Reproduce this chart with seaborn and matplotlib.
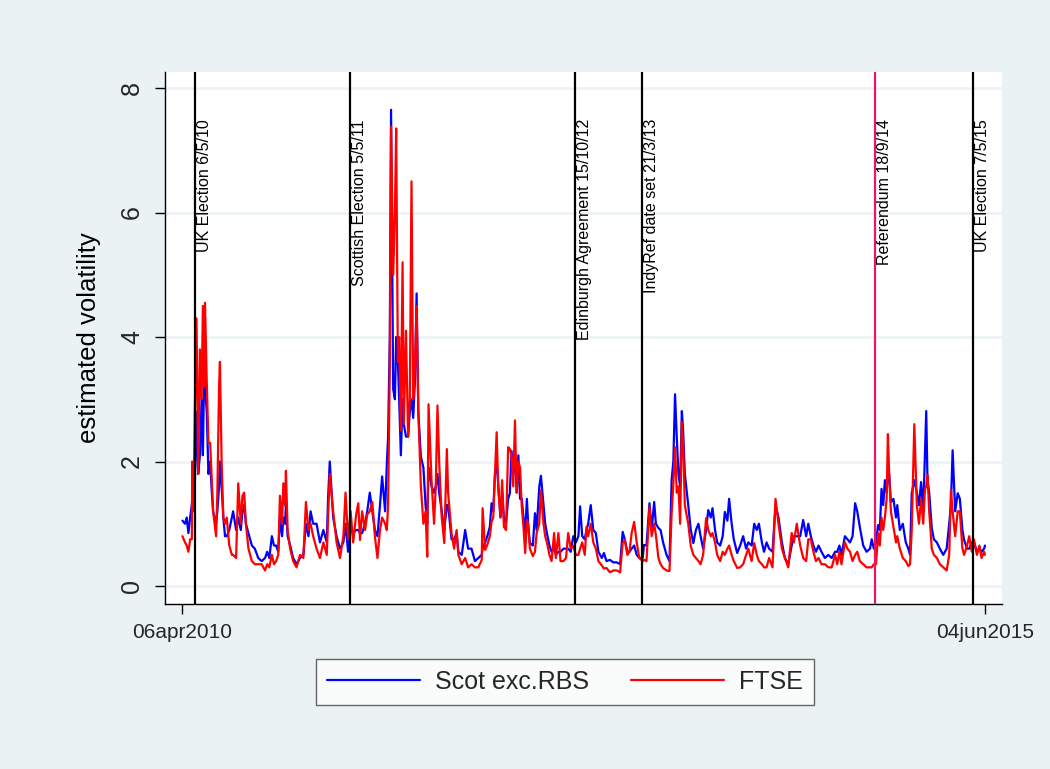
import numpy as np
import pandas as pd
import matplotlib
matplotlib.use("Agg")
import matplotlib.pyplot as plt
from matplotlib.lines import Line2D
import seaborn as sns

# ---------------- data ----------------
start_date = "2010-04-06"

# days since 06apr2010
day_offset = [
    0, 6, 10, 14, 18, 22, 23, 26, 29, 33,
    37, 41, 45, 48, 51, 53, 57, 61, 65, 69,
    72, 79, 82, 86, 88, 92, 96, 100, 104, 110,
    116, 119, 126, 131, 137, 141, 145, 149, 155, 163,
    170, 178, 186, 194, 199, 204, 210, 215, 220, 225,
    229, 234, 237, 241, 243, 247, 253, 260, 268, 276,
    284, 290, 296, 301, 307, 315, 323, 331, 339, 342,
    346, 354, 362, 370, 378, 383, 389, 395, 401, 408,
    413, 417, 422, 429, 434, 440, 446, 452, 458, 464,
    469, 476, 480, 483, 487, 490, 495, 499, 502, 506,
    509, 513, 517, 520, 525, 530, 534, 538, 542, 546,
    550, 554, 560, 566, 571, 575, 578, 581, 585, 591,
    595, 599, 603, 609, 615, 621, 624, 632, 638, 644,
    648, 656, 664, 671, 679, 687, 695, 703, 705, 711,
    716, 722, 726, 730, 734, 738, 742, 747, 751, 755,
    760, 765, 769, 773, 777, 781, 785, 789, 793, 797,
    801, 805, 809, 812, 816, 823, 828, 832, 838, 842,
    848, 852, 856, 862, 867, 873, 877, 883, 888, 895,
    901, 906, 912, 918, 924, 930, 934, 939, 945, 949,
    953, 959, 965, 971, 977, 985, 990, 996, 1004, 1012,
    1020, 1028, 1034, 1039, 1045, 1050, 1055, 1061, 1067, 1073,
    1081, 1084, 1090, 1097, 1102, 1108, 1112, 1118, 1123, 1129,
    1137, 1144, 1149, 1153, 1157, 1161, 1165, 1169, 1173, 1176,
    1180, 1188, 1194, 1200, 1206, 1212, 1217, 1223, 1230, 1235,
    1241, 1245, 1251, 1256, 1263, 1269, 1274, 1280, 1284, 1290,
    1295, 1303, 1310, 1317, 1324, 1329, 1337, 1343, 1349, 1354,
    1361, 1366, 1372, 1378, 1386, 1393, 1400, 1408, 1415, 1423,
    1431, 1436, 1443, 1451, 1458, 1465, 1470, 1476, 1482, 1488,
    1494, 1501, 1509, 1517, 1525, 1533, 1538, 1543, 1548, 1556,
    1562, 1568, 1574, 1580, 1585, 1591, 1599, 1607, 1615, 1619,
    1624, 1629, 1634, 1638, 1642, 1646, 1650, 1654, 1657, 1660,
    1664, 1670, 1676, 1679, 1685, 1692, 1699, 1705, 1709, 1713,
    1719, 1725, 1730, 1735, 1740, 1744, 1747, 1750, 1754, 1760,
    1765, 1772, 1779, 1787, 1795, 1801, 1805, 1809, 1815, 1821,
    1826, 1832, 1836, 1843, 1848, 1854, 1859, 1866, 1872, 1877,
    1883, 1885,
]

scot_exc_rbs = [
    1.05, 1.0, 1.1, 0.85, 1.1, 1.3, 1.4, 1.3, 1.6, 2.8,
    1.8, 2.1, 3.0, 2.1, 3.5, 3.2, 2.8, 1.8, 2.0, 1.5,
    1.2, 1.0, 1.2, 1.6, 2.0, 1.6, 1.1, 0.8, 0.8, 0.9,
    1.1, 1.2, 0.9, 1.1, 0.9, 1.2, 1.3, 1.0, 0.85, 0.65,
    0.6, 0.45, 0.4, 0.45, 0.55, 0.45, 0.8, 0.65, 0.65, 0.55,
    1.1, 0.8, 1.1, 1.0, 1.3, 0.8, 0.65, 0.45, 0.35, 0.45,
    0.5, 1.0, 0.8, 1.2, 1.0, 1.0, 0.7, 0.9, 0.7, 1.4,
    2.0, 1.1, 0.8, 0.6, 0.7, 1.0, 0.55, 0.9, 0.85, 0.9,
    0.9, 0.85, 0.85, 1.0, 1.2, 1.5, 1.2, 0.9, 0.8, 1.3,
    1.76, 1.2, 1.95, 2.4, 4.0, 7.65, 3.16, 3.0, 4.0, 3.6,
    3.0, 2.1, 3.0, 2.6, 2.4, 2.4, 2.8, 3.0, 2.7, 3.3,
    4.7, 2.8, 2.08, 1.9, 1.3, 1.0, 1.9, 1.8, 1.6, 1.5,
    1.6, 1.8, 1.5, 1.2, 0.9, 1.3, 1.3, 0.75, 0.75, 0.85,
    0.55, 0.5, 0.9, 0.6, 0.6, 0.4, 0.45, 0.5, 0.6, 0.7,
    0.8, 0.95, 1.33, 1.2, 1.8, 2.0, 1.6, 1.1, 1.5, 1.1,
    1.0, 1.4, 1.49, 2.17, 1.8, 2.1, 1.5, 2.1, 1.4, 1.4,
    1.1, 0.85, 1.4, 1.0, 0.69, 0.65, 1.17, 0.9, 1.59, 1.77,
    1.3, 1.0, 0.85, 0.65, 0.55, 0.6, 0.5, 0.55, 0.55, 0.6,
    0.6, 0.6, 0.55, 0.8, 0.7, 0.8, 1.28, 0.8, 0.75, 0.9,
    1.0, 1.3, 0.9, 0.85, 0.55, 0.45, 0.53, 0.4, 0.42, 0.38,
    0.38, 0.35, 0.87, 0.75, 0.55, 0.55, 0.6, 0.65, 0.5, 0.45,
    0.45, 0.66, 0.65, 1.33, 0.9, 1.35, 1.0, 0.93, 0.9, 0.7,
    0.5, 0.4, 1.7, 2.0, 3.08, 2.4, 1.8, 1.6, 2.81, 2.5,
    1.8, 1.3, 0.9, 0.69, 0.9, 1.0, 0.8, 0.6, 0.9, 1.22,
    1.1, 1.25, 0.9, 0.7, 0.65, 0.8, 1.19, 1.05, 1.4, 1.0,
    0.75, 0.53, 0.65, 0.8, 0.6, 0.7, 0.65, 1.0, 0.9, 1.0,
    0.7, 0.55, 0.7, 0.6, 0.55, 1.3, 1.1, 0.7, 0.45, 0.35,
    0.65, 0.8, 0.8, 0.8, 1.06, 0.8, 1.0, 0.8, 0.65, 0.55,
    0.65, 0.55, 0.45, 0.5, 0.45, 0.55, 0.55, 0.65, 0.5, 0.8,
    0.75, 0.7, 0.8, 1.33, 1.2, 0.95, 0.65, 0.55, 0.6, 0.75,
    0.6, 0.7, 0.98, 0.9, 1.56, 1.3, 1.7, 1.5, 1.8, 1.8,
    1.35, 1.4, 1.1, 1.3, 0.9, 1.0, 0.7, 0.6, 0.5, 1.49,
    1.7, 1.5, 1.3, 1.67, 1.2, 2.12, 2.81, 1.7, 1.5, 0.93,
    0.75, 0.7, 0.6, 0.5, 0.6, 1.0, 1.3, 2.18, 1.2, 1.49,
    1.4, 0.9, 0.74, 0.6, 0.6, 0.7, 0.7, 0.55, 0.6, 0.55,
    0.6, 0.65,
]

ftse = [
    0.8, 0.7, 0.65, 0.55, 0.75, 0.75, 2.0, 1.2, 2.8, 4.3,
    1.8, 3.8, 3.0, 4.5, 3.2, 4.55, 3.3, 2.3, 2.3, 1.7,
    1.2, 0.8, 1.5, 3.2, 3.6, 2.0, 1.1, 1.0, 1.1, 0.65,
    0.5, 0.5, 0.45, 1.65, 1.0, 1.45, 1.5, 1.0, 0.6, 0.4,
    0.35, 0.35, 0.35, 0.25, 0.35, 0.3, 0.5, 0.35, 0.4, 0.5,
    1.45, 1.0, 1.65, 1.3, 1.85, 0.9, 0.6, 0.4, 0.3, 0.5,
    0.45, 1.35, 0.9, 1.0, 0.8, 0.6, 0.45, 0.7, 0.5, 1.1,
    1.8, 1.2, 0.7, 0.45, 0.8, 1.5, 0.75, 1.2, 0.7, 1.15,
    1.33, 0.74, 1.2, 0.9, 1.15, 1.2, 1.35, 0.8, 0.45, 0.9,
    1.1, 1.0, 0.9, 1.3, 3.5, 7.38, 5.0, 6.0, 7.35, 3.6,
    4.0, 2.5, 5.2, 2.6, 4.1, 2.4, 3.0, 6.5, 3.0, 3.5,
    4.5, 2.8, 1.6, 1.0, 1.2, 0.47, 2.92, 2.4, 1.7, 1.0,
    1.6, 2.9, 2.0, 1.1, 0.69, 2.2, 1.5, 0.85, 0.6, 0.9,
    0.5, 0.35, 0.45, 0.3, 0.35, 0.3, 0.3, 0.42, 1.25, 0.58,
    0.66, 0.8, 1.03, 1.1, 1.8, 2.47, 1.54, 1.11, 1.7, 0.95,
    0.9, 2.23, 2.2, 2.1, 1.6, 2.66, 1.5, 2.0, 1.9, 1.27,
    0.95, 0.53, 1.06, 1.0, 0.6, 0.48, 0.55, 0.85, 1.0, 1.54,
    1.0, 0.8, 0.7, 0.5, 0.4, 0.85, 0.45, 0.85, 0.4, 0.4,
    0.45, 0.85, 0.6, 0.65, 0.5, 0.5, 0.6, 0.7, 0.5, 0.95,
    0.8, 1.0, 0.7, 0.6, 0.4, 0.33, 0.28, 0.29, 0.22, 0.25,
    0.25, 0.22, 0.69, 0.74, 0.5, 0.55, 0.85, 1.03, 0.7, 0.45,
    0.4, 0.42, 0.4, 1.27, 0.8, 1.0, 0.82, 0.45, 0.35, 0.29,
    0.25, 0.24, 1.17, 1.64, 2.23, 1.5, 1.6, 1.0, 2.63, 2.3,
    1.3, 1.0, 0.64, 0.5, 0.45, 0.4, 0.35, 0.5, 1.09, 0.9,
    0.8, 0.85, 0.7, 0.5, 0.4, 0.55, 0.5, 0.6, 0.65, 0.5,
    0.4, 0.29, 0.3, 0.35, 0.5, 0.6, 0.4, 0.69, 0.5, 0.4,
    0.35, 0.3, 0.3, 0.45, 0.3, 1.4, 1.0, 0.6, 0.45, 0.3,
    0.85, 0.7, 1.0, 0.65, 0.45, 0.4, 0.75, 0.75, 0.55, 0.4,
    0.45, 0.35, 0.35, 0.3, 0.3, 0.5, 0.35, 0.55, 0.35, 0.7,
    0.6, 0.55, 0.4, 0.5, 0.55, 0.4, 0.35, 0.3, 0.3, 0.3,
    0.35, 0.35, 0.85, 0.65, 1.1, 0.9, 1.1, 1.4, 2.44, 1.8,
    1.2, 0.95, 0.7, 0.8, 0.6, 0.45, 0.4, 0.32, 0.35, 0.9,
    2.6, 1.3, 1.0, 1.4, 1.0, 1.55, 1.6, 1.78, 1.2, 0.6,
    0.5, 0.45, 0.35, 0.3, 0.25, 0.5, 1.54, 1.2, 0.8, 1.2,
    1.2, 0.6, 0.5, 0.65, 0.8, 0.55, 0.75, 0.5, 0.65, 0.45,
    0.55, 0.5,
]

series_names = ["Scot exc.RBS", "FTSE"]
series_colors = ["#0000ff", "#ff0000"]

event_dates = ["2010-05-06", "2011-05-05", "2012-10-15", "2013-03-21", "2014-09-18", "2015-05-07"]
event_labels = ["UK Election 6/5/10", "Scottish Election 5/5/11", "Edinburgh Agreement 15/10/12",
                "IndyRef date set 21/3/13", "Referendum 18/9/14", "UK Election 7/5/15"]
event_colors = ["black", "black", "black", "black", "#e8156f", "black"]

xtick_dates = ["2010-04-06", "2015-06-04"]
xtick_labels = ["06apr2010", "04jun2015"]
ytick_values = [0, 2, 4, 6, 8]

# ---------------- build frame ----------------
start = pd.Timestamp(start_date)
dates = start + pd.to_timedelta(day_offset, unit="D")
df = pd.concat([
    pd.DataFrame({"date": dates, "value": scot_exc_rbs, "series": series_names[0]}),
    pd.DataFrame({"date": dates, "value": ftse, "series": series_names[1]}),
], ignore_index=True)

# ---------------- style ----------------
BG = "#eaf2f3"
sns.set_theme(style="white")
plt.rcParams["font.family"] = ["Liberation Sans", "DejaVu Sans"]

fig = plt.figure(figsize=(10.5, 7.69), dpi=100, facecolor=BG)
ax = fig.add_axes([165 / 1050, 1 - 604 / 769, (1002 - 165) / 1050, (604 - 72) / 769])
ax.set_facecolor("white")

# grid
ax.set_yticks(ytick_values)
ax.yaxis.grid(True, color=BG, lw=1.8)
ax.xaxis.grid(False)
ax.set_axisbelow(True)

sns.lineplot(data=df, x="date", y="value", hue="series", hue_order=series_names,
             palette=dict(zip(series_names, series_colors)), linewidth=1.6,
             estimator=None, sort=False, legend=False, ax=ax)

# event lines and labels
for d, lab, c in zip(event_dates, event_labels, event_colors):
    dt = pd.Timestamp(d)
    ax.axvline(dt, color=c, lw=1.6, zorder=3)
    ax.annotate(lab, xy=(dt, 7.5), xytext=(1.5, 0), textcoords="offset points",
                rotation=90, ha="left", va="top", fontsize=11.5, color="black", zorder=4)

# axes limits
ax.set_xlim(start - pd.Timedelta(days=41), start + pd.Timedelta(days=1925))
ax.set_ylim(-0.289, 8.257)

# spines
for s in ["top", "right"]:
    ax.spines[s].set_visible(False)
for s in ["left", "bottom"]:
    ax.spines[s].set_color("black")
    ax.spines[s].set_linewidth(1.0)

# ticks
ax.set_xticks(pd.to_datetime(xtick_dates))
ax.set_xticklabels(xtick_labels, fontsize=15)
ax.set_yticklabels([str(v) for v in ytick_values], fontsize=18)
plt.setp(ax.get_yticklabels(), rotation=90, va="center")
ax.tick_params(axis="both", direction="out", length=7, width=1.0, color="black",
               left=True, bottom=True)
ax.tick_params(axis="y", pad=8)
ax.tick_params(axis="x", pad=7)

ax.set_xlabel("")
ax.set_ylabel("estimated volatility", fontsize=18.5, labelpad=14, color="black")

# legend
handles = [Line2D([0], [0], color=c, lw=1.6) for c in series_colors]
leg = fig.legend(handles, series_names, loc="center left",
                 bbox_to_anchor=(316 / 1050, 1 - 682 / 769), ncol=2, fontsize=18,
                 frameon=True, fancybox=False, edgecolor="#404040", borderaxespad=0,
                 handlelength=3.7, handletextpad=0.6, columnspacing=1.7, borderpad=0.45)
leg.get_frame().set_linewidth(1.0)
leg.get_frame().set_facecolor("white")

fig.savefig("out.png", dpi=100, facecolor=BG)
